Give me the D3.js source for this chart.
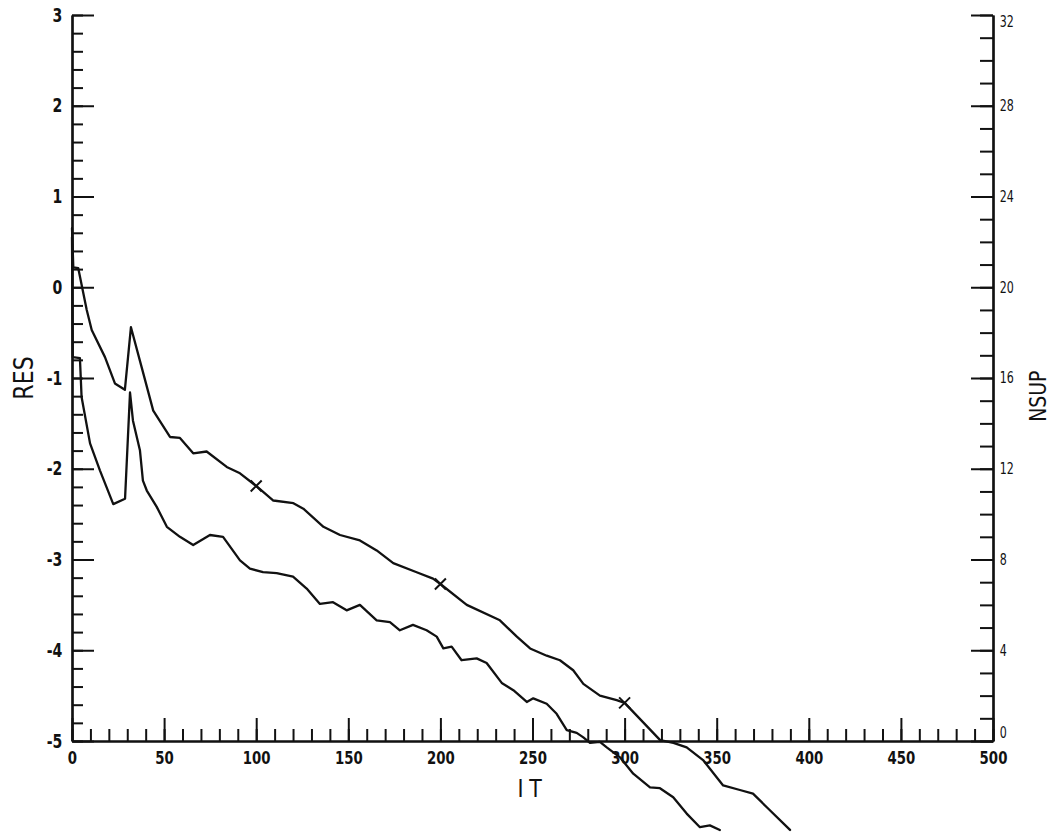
<!DOCTYPE html>
<html>
<head>
<meta charset="utf-8">
<script src="https://cdn.jsdelivr.net/npm/d3@7"></script>
<style>
  html, body { margin: 0; padding: 0; background: #fff; }
  svg text { font-family: "DejaVu Sans", sans-serif; fill: #111; }
</style>
</head>
<body>
<svg id="chart" width="1057" height="836"></svg>
<script>
// Residual history (log10) against iteration count
const itUpper = [0, 0.7, 3.4, 8, 10.7, 17.9, 23.3, 28.7, 32.0, 37.8, 44.1, 53.2, 58.6, 65.8, 73.1, 84, 91.2, 100,
  109.3, 120.2, 125.6, 136.5, 145.5, 156.3, 165.4, 174.4, 187.1, 196, 200, 214.3, 232.3, 241.5, 248.7, 257.7,
  264.9, 272.1, 277.6, 286.6, 295.7, 300, 319.3, 326.5, 333.7, 342.6, 353.5, 362.6, 369.7, 377.2, 389.8];
const resUpper = [0.65, 0.22, 0.21, -0.25, -0.47, -0.77, -1.06, -1.13, -0.44, -0.88, -1.36, -1.65, -1.66, -1.83, -1.81, -1.98, -2.05, -2.19,
  -2.35, -2.38, -2.44, -2.64, -2.73, -2.79, -2.90, -3.04, -3.14, -3.21, -3.27, -3.50, -3.67, -3.85, -3.98, -4.06,
  -4.11, -4.22, -4.37, -4.50, -4.55, -4.58, -4.99, -5.02, -5.07, -5.21, -5.49, -5.54, -5.58, -5.73, -5.98];

const itLower = [0, 0.4, 4.3, 5.2, 9.8, 15.2, 22.4, 28.8, 31.5, 33.1, 36.9, 38.5, 40.6, 46, 51.5, 58.6, 65.8, 74.9, 82,
  91.2, 96.6, 103.7, 111.1, 120, 127.4, 134.6, 141.7, 149.1, 156.3, 165.4, 172.6, 178.0, 185.1, 192.5, 198,
  201.6, 206.1, 211.5, 219.7, 225.1, 233.3, 239.6, 246.9, 250.4, 257.7, 263.1, 268.6, 274, 277.6, 281.2,
  286.6, 290.3, 297.5, 304.7, 313.8, 319.2, 326.4, 333.7, 340.9, 346.3, 351.7];
const resLower = [0.55, -0.77, -0.78, -1.21, -1.72, -2.02, -2.39, -2.33, -1.16, -1.47, -1.80, -2.13, -2.24, -2.42, -2.64, -2.75, -2.84, -2.73, -2.75,
  -3.01, -3.10, -3.14, -3.15, -3.19, -3.32, -3.49, -3.47, -3.56, -3.50, -3.67, -3.69, -3.78, -3.72, -3.78, -3.85,
  -3.98, -3.96, -4.11, -4.09, -4.14, -4.36, -4.44, -4.57, -4.53, -4.59, -4.70, -4.88, -4.91, -4.96, -5.02,
  -5.01, -5.07, -5.18, -5.36, -5.51, -5.52, -5.62, -5.80, -5.95, -5.93, -5.98];

// Cross markers placed on the upper curve every 100 iterations
const markerIT = [100, 200, 300];
const markerRes = [-2.19, -3.27, -4.58];

// Tick values
const xMajor = [0, 50, 100, 150, 200, 250, 300, 350, 400, 450, 500];
const xMinor = d3.range(0, 501, 10);
const yMajor = [-5, -4, -3, -2, -1, 0, 1, 2, 3];
const yMinor = d3.range(-50, 31, 2).map(v => v / 10);
const y2Major = [0, 4, 8, 12, 16, 20, 24, 28, 32];
const y2Minor = d3.range(0, 33, 1);

const svg = d3.select("#chart");
const x = d3.scaleLinear().domain([0, 500]).range([72, 993]);
const y = d3.scaleLinear().domain([-5, 3]).range([741, 15]);
const y2 = d3.scaleLinear().domain([0, 32]).range([741, 15]);

// Narrow plotter-style lettering: squeeze glyphs horizontally
const SQUEEZE = 0.74;
function styleAxis(g, size, weight) {
  g.selectAll("path.domain").attr("stroke", "#111").attr("stroke-width", 2.2);
  g.selectAll(".tick line").attr("stroke", "#111").attr("stroke-width", 2);
  g.selectAll("text").attr("font-size", size).attr("font-weight", weight || "normal")
    .attr("fill", "#111").attr("transform", `scale(${SQUEEZE},1)`);
}

// Left axis (RES)
svg.append("g").attr("transform", `translate(${x(0)},0)`)
  .call(d3.axisLeft(y).tickValues(yMinor).tickSize(-11).tickSizeOuter(0).tickFormat(""))
  .call(g => styleAxis(g, 18));
svg.append("g").attr("transform", `translate(${x(0)},0)`)
  .call(d3.axisLeft(y).tickValues(yMajor).tickSize(-22).tickSizeOuter(0).tickPadding(13).tickFormat(d => String(d)))
  .call(g => styleAxis(g, 19, "bold"));

// Bottom axis (IT)
svg.append("g").attr("transform", `translate(0,${y(-5)})`)
  .call(d3.axisBottom(x).tickValues(xMinor).tickSize(-12).tickSizeOuter(0).tickFormat(""))
  .call(g => styleAxis(g, 18));
svg.append("g").attr("transform", `translate(0,${y(-5)})`)
  .call(d3.axisBottom(x).tickValues(xMajor).tickSize(-23).tickSizeOuter(0).tickPadding(10).tickFormat(d => String(d)))
  .call(g => styleAxis(g, 18, "bold"));

// Right axis (NSUP)
svg.append("g").attr("transform", `translate(${x(500)},0)`)
  .call(d3.axisRight(y2).tickValues(y2Minor).tickSize(-13).tickSizeOuter(0).tickFormat(""))
  .call(g => styleAxis(g, 15));
svg.append("g").attr("transform", `translate(${x(500)},0)`)
  .call(d3.axisRight(y2).tickValues(y2Major).tickSize(-22).tickSizeOuter(0).tickPadding(9).tickFormat(d => String(d)))
  .call(g => styleAxis(g, 15))
  .call(g => g.selectAll(".tick").filter(d => d === 0).select("text").attr("dy", "-0.25em"))
  .call(g => g.selectAll(".tick").filter(d => d === 32).select("text").attr("dy", "0.75em"));

// Axis titles
svg.append("text").attr("transform", `translate(33,${y(-1)}) rotate(-90) scale(0.82,1)`)
  .attr("text-anchor", "middle").attr("font-size", 27).text("RES");
svg.append("text").attr("transform", `translate(${x(250)},797) scale(0.82,1)`)
  .attr("text-anchor", "middle").attr("font-size", 25).attr("letter-spacing", 7).text("IT");
svg.append("text").attr("transform", `translate(1046,${y2(15.2)}) rotate(-90) scale(0.82,1)`)
  .attr("text-anchor", "middle").attr("font-size", 23).text("NSUP");

// Curves
const line = d3.line().x(d => x(d[0])).y(d => y(d[1]));
const upper = itUpper.map((v, i) => [v, resUpper[i]]);
const lower = itLower.map((v, i) => [v, resLower[i]]);
[upper, lower].forEach(pts => {
  svg.append("path").datum(pts).attr("d", line)
    .attr("fill", "none").attr("stroke", "#111").attr("stroke-width", 2.3)
    .attr("stroke-linejoin", "round").attr("stroke-linecap", "round");
});

// Cross markers
const s = 5.5;
svg.append("g").selectAll("path").data(markerIT.map((v, i) => [v, markerRes[i]])).join("path")
  .attr("d", d => {
    const cx = x(d[0]), cy = y(d[1]);
    return `M${cx - s},${cy - s}L${cx + s},${cy + s}M${cx - s},${cy + s}L${cx + s},${cy - s}`;
  })
  .attr("stroke", "#111").attr("stroke-width", 2).attr("fill", "none");
</script>
</body>
</html>
